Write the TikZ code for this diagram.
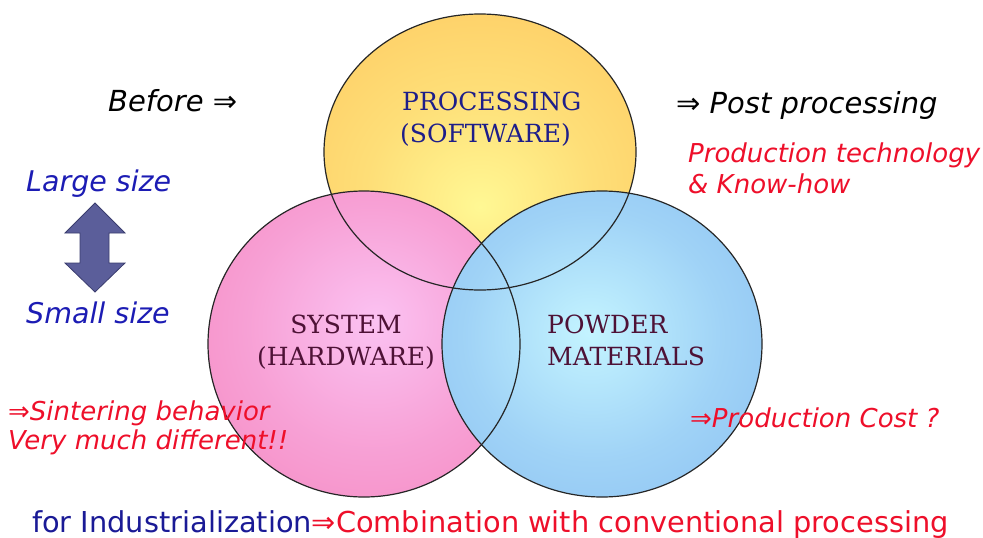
\documentclass[tikz,border=0pt]{standalone}
\usepackage{fontspec}
\newfontfamily\dvs{DejaVu Sans}
\newfontfamily\dvserif{DejaVu Serif}
\usetikzlibrary{shapes.geometric}
\definecolor{yelin}{HTML}{FFF894}
\definecolor{yelout}{HTML}{FDBF55}
\definecolor{pinkin}{HTML}{FBC2F2}
\definecolor{pinkout}{HTML}{F378B2}
\definecolor{bluein}{HTML}{C4F4FF}
\definecolor{blueout}{HTML}{7CB2EE}
\definecolor{txtred}{HTML}{EE0F2A}
\definecolor{txtblue}{HTML}{1C1CB4}
\definecolor{txtnavy}{HTML}{1A1A96}
\definecolor{lblnavy}{HTML}{1E1E8A}
\definecolor{lblmaroon}{HTML}{4E1236}
\definecolor{arrowfill}{HTML}{5B5E9A}
\definecolor{arrowline}{HTML}{3A3C6E}
\pgfdeclareradialshading{yelball}{\pgfpoint{0bp}{-10bp}}{color(0bp)=(yelin); color(18bp)=(yelin!55!yelout); color(50bp)=(yelout); color(60bp)=(yelout)}
\pgfdeclareradialshading{pinkball}{\pgfpoint{2bp}{4bp}}{color(0bp)=(pinkin); color(20bp)=(pinkin!55!pinkout); color(50bp)=(pinkout); color(60bp)=(pinkout)}
\pgfdeclareradialshading{blueball}{\pgfpoint{-2bp}{2bp}}{color(0bp)=(bluein); color(20bp)=(bluein!50!blueout); color(50bp)=(blueout); color(60bp)=(blueout)}
\begin{document}
\begin{tikzpicture}[x=1pt,y=-1pt,
  lbl/.style={inner sep=0pt, anchor=base west},
  blacktxt/.style={lbl, font=\dvs\itshape\fontsize{29}{34}\selectfont, text=black},
  redtxt/.style={lbl, font=\dvs\itshape\fontsize{26}{31}\selectfont, text=txtred},
  bluetxt/.style={lbl, font=\dvs\itshape\fontsize{28.5}{34}\selectfont, text=txtblue},
  seriftxt/.style={inner sep=0pt, font=\dvserif\fontsize{25}{30}\selectfont},
  ring/.style={draw=black!85, line width=1.2pt}]
\useasboundingbox (0,0) rectangle (983,538);
% circles (fills)
\path[shading=yelball] (480,152) ellipse [x radius=156pt, y radius=138pt];
\path[shading=pinkball] (364,344) ellipse [x radius=156pt, y radius=153pt];
\path[shading=blueball] (602,344) ellipse [x radius=160pt, y radius=153pt];
% outlines
\draw[ring] (480,152) ellipse [x radius=156pt, y radius=138pt];
\draw[ring] (364,344) ellipse [x radius=156pt, y radius=153pt];
\draw[ring] (602,344) ellipse [x radius=160pt, y radius=153pt];
% circle labels
\node[seriftxt, anchor=base west, text=lblnavy] (proc1) at (402,110) {PROCESSING};
\node[seriftxt, anchor=base west, text=lblnavy] (proc2) at (400,142) {(SOFTWARE)};
\node[seriftxt, anchor=base, text=lblmaroon] (sys1) at (346,333) {SYSTEM};
\node[seriftxt, anchor=base, text=lblmaroon] (sys2) at (346,365) {(HARDWARE)};
\node[seriftxt, anchor=base west, text=lblmaroon] (pow1) at (547,333) {POWDER};
\node[seriftxt, anchor=base west, text=lblmaroon] (pow2) at (547,365) {MATERIALS};
% double arrow
\draw[fill=arrowfill, draw=arrowline, line width=0.8pt, line join=miter]
  (95,203) -- (125,233) -- (109,233) -- (109,263) -- (125,263) -- (95,292)
  -- (65,263) -- (80,263) -- (80,233) -- (65,233) -- cycle;
% side texts
\node[blacktxt] (before) at (108,111) {Before ⇒};
\node[blacktxt] (post) at (676,113) {⇒ Post processing};
\node[redtxt] (prod1) at (688,162) {Production technology};
\node[redtxt] (prod2) at (688,193) {\& Know-how};
\node[bluetxt] (large) at (26,191) {Large size};
\node[bluetxt] (small) at (26,323) {Small size};
\node[redtxt] (sint1) at (8,420) {⇒Sintering behavior};
\node[redtxt] (sint2) at (8,449) {Very much different!!};
\node[redtxt] (cost) at (690,427) {⇒Production Cost ?};
% bottom line
\node[lbl, font=\dvs\fontsize{28.8}{34}\selectfont] (bottom) at (32,532)
  {\textcolor{txtnavy}{for Industrialization}\textcolor{txtred}{⇒Combination with conventional processing}};
\end{tikzpicture}
\end{document}
